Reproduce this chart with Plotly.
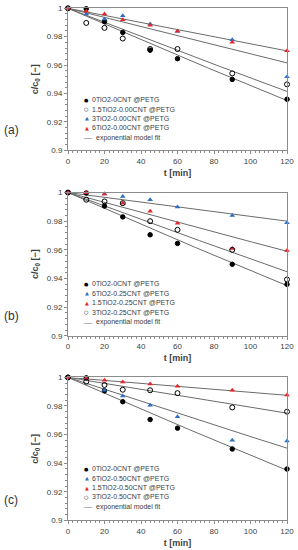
import numpy as np
import plotly.graph_objects as go

# ---------------- data ----------------
t = [0, 10, 20, 30, 45, 60, 90, 120]

black_0 = [1, 0.9997, 0.9906, 0.983, 0.9705, 0.9645, 0.9499, 0.9359]

a_15 = [1, 0.9897, 0.9862, 0.9787, 0.9713, 0.9713, 0.9541, 0.9464]
a_3 = [1, 0.996, 0.9925, 0.9948, 0.989, 0.9838, 0.9778, 0.9517]
a_6 = [1, 0.9979, 0.996, 0.992, 0.988, 0.9839, 0.976, 0.970]

b_6 = [1, 0.9998, 0.999, 0.9972, 0.995, 0.990, 0.984, 0.979]
b_15 = [1, 0.9998, 0.999, 0.9925, 0.987, 0.9785, 0.961, 0.9596]
b_3 = [1, 0.995, 0.9938, 0.9926, 0.980, 0.974, 0.960, 0.9393]

c_6 = [1, 0.999, 0.991, 0.987, 0.9805, 0.9725, 0.956, 0.9555]
c_15 = [1, 0.9993, 0.998, 0.9968, 0.9954, 0.9938, 0.991, 0.9877]
c_3 = [1, 0.997, 0.9947, 0.9914, 0.991, 0.989, 0.979, 0.976]

# exponential model fit rate constants k [1/min]  (c/c0 = exp(-k t))
k_black = 5.60e-4
k_a = {"15": 5.03e-4, "3": 3.27e-4, "6": 2.54e-4}
k_b = {"6": 1.68e-4, "15": 3.49e-4, "3": 4.74e-4}
k_c = {"6": 4.23e-4, "15": 1.05e-4, "3": 2.11e-4}

x_ticks = [0, 20, 40, 60, 80, 100, 120]
y_ticks = [0.9, 0.92, 0.94, 0.96, 0.98, 1.0]
y_tick_labels = ["0.9", "0.92", "0.94", "0.96", "0.98", "1"]

# ---------------- styles ----------------
BLUE = "#2f6fbf"
RED = "#e3262a"
LINE = "#6b6b6b"
FONT = "Liberation Sans"

sty = {
    "black": dict(symbol="circle", color="black", line=dict(color="black", width=1), size=4.5),
    "open": dict(symbol="circle-open", color="black", line=dict(color="black", width=1), size=5),
    "blue": dict(symbol="triangle-up", color=BLUE, line=dict(width=0), size=5),
    "red": dict(symbol="triangle-up", color=RED, line=dict(width=0), size=5),
}
glyph = {"black": ("●", "black"), "open": ("○", "black"),
         "blue": ("▲", BLUE), "red": ("▲", RED)}

panels = [
    ("(a)", [("black", black_0, k_black, "0TiO2-0CNT @PETG"),
             ("open", a_15, k_a["15"], "1.5TiO2-0.00CNT @PETG"),
             ("blue", a_3, k_a["3"], "3TiO2-0.00CNT @PETG"),
             ("red", a_6, k_a["6"], "6TiO2-0.00CNT @PETG")]),
    ("(b)", [("black", black_0, k_black, "0TiO2-0CNT @PETG"),
             ("blue", b_6, k_b["6"], "6TiO2-0.25CNT @PETG"),
             ("red", b_15, k_b["15"], "1.5TiO2-0.25CNT @PETG"),
             ("open", b_3, k_b["3"], "3TiO2-0.25CNT @PETG")]),
    ("(c)", [("black", black_0, k_black, "0TiO2-0CNT @PETG"),
             ("blue", c_6, k_c["6"], "6TiO2-0.50CNT @PETG"),
             ("red", c_15, k_c["15"], "1.5TiO2-0.50CNT @PETG"),
             ("open", c_3, k_c["3"], "3TiO2-0.50CNT @PETG")]),
]

# pixel layout
W, H = 298, 550
ML, MR, MT, MB = 68, 8, 4, 29
PH = H - MT - MB
panel_px = [(4.3, 147.3), (190.0, 334.3), (376.3, 520.3)]

def dom(top, bot):
    return [(H - MB - bot) / PH, (H - MB - top) / PH]

def px_x(px):
    return (px - ML) / (W - ML - MR)

fig = go.Figure()
layout = dict(width=W, height=H, margin=dict(l=ML, r=MR, t=MT, b=MB),
              paper_bgcolor="white", plot_bgcolor="white", showlegend=False,
              font=dict(family=FONT, color="#404040"))
annotations = []
t_fit = np.linspace(0, 120, 121)

for i, (label, series) in enumerate(panels):
    n = "" if i == 0 else str(i + 1)
    xa, ya = "x" + n, "y" + n
    top, bot = panel_px[i]
    ph = bot - top
    # fit lines first
    for key, vals, k, name in series:
        fig.add_trace(go.Scatter(x=t_fit, y=np.exp(-k * t_fit), mode="lines",
                                 line=dict(color=LINE, width=1), xaxis=xa, yaxis=ya,
                                 hoverinfo="skip"))
    for key, vals, k, name in series:
        s = sty[key]
        fig.add_trace(go.Scatter(x=t, y=vals, mode="markers", name=name, xaxis=xa, yaxis=ya,
                                 cliponaxis=False,
                                 marker=dict(symbol=s["symbol"], size=s["size"],
                                             color=s["color"], line=s["line"])))
    axcommon = dict(showline=True, linecolor="#8c8c8c", linewidth=1, mirror=True,
                    ticks="outside", ticklen=3, tickcolor="#8c8c8c", showgrid=False,
                    zeroline=False, tickfont=dict(size=8, color="#404040", family=FONT))
    layout["xaxis" + n] = dict(axcommon, domain=[0, 1], range=[0, 120], tickvals=x_ticks,
                               anchor=ya,
                               minor=dict(dtick=2.5, ticks="outside", ticklen=2, tickcolor="#8c8c8c"),
                               title=dict(text="<b>t [min]</b>", font=dict(size=9, color="#404040"),
                                          standoff=4))
    layout["yaxis" + n] = dict(axcommon, domain=dom(top, bot), range=[0.9, 1.0],
                               tickvals=y_ticks, ticktext=y_tick_labels, anchor=xa,
                               minor=dict(dtick=0.004, ticks="outside", ticklen=2, tickcolor="#8c8c8c"),
                               title=dict(text="<b>c/c<sub>0</sub> [−]</b>",
                                          font=dict(size=9, color="#404040"), standoff=6))
    # panel label
    annotations.append(dict(text=label, xref="paper", yref="paper", x=px_x(1), xanchor="left",
                            y=(H - MB - (top + 0.86 * ph)) / PH, yanchor="middle",
                            showarrow=False, font=dict(size=12, color="#303030")))
    # legend (drawn manually)
    offs = [92, 101.5, 111, 120.5, 130.5]
    for j, (key, vals, k, name) in enumerate(series):
        g, c = glyph[key]
        yy = 1 - offs[j] / ph
        annotations.append(dict(text=g, xref=xa + " domain", yref=ya + " domain",
                                x=px_x(87), y=yy, xanchor="center", yanchor="middle",
                                showarrow=False, font=dict(size=5, color=c, family="DejaVu Sans")))
        annotations.append(dict(text=name, xref=xa + " domain", yref=ya + " domain",
                                x=px_x(90), y=yy, xanchor="left", yanchor="middle",
                                showarrow=False, font=dict(size=7, color="#404040")))
    yy = 1 - offs[4] / ph
    annotations.append(dict(text="—", xref=xa + " domain", yref=ya + " domain",
                            x=px_x(88.5), y=yy, xanchor="center", yanchor="middle",
                            showarrow=False, font=dict(size=8, color=LINE)))
    annotations.append(dict(text="exponential model fit", xref=xa + " domain", yref=ya + " domain",
                            x=px_x(94), y=yy, xanchor="left", yanchor="middle",
                            showarrow=False, font=dict(size=7, color="#404040")))

layout["annotations"] = annotations
fig.update_layout(**layout)
fig.write_html("out.html", config={"displayModeBar": False},
               post_script="document.body.style.margin='0';document.body.style.overflow='hidden';")
